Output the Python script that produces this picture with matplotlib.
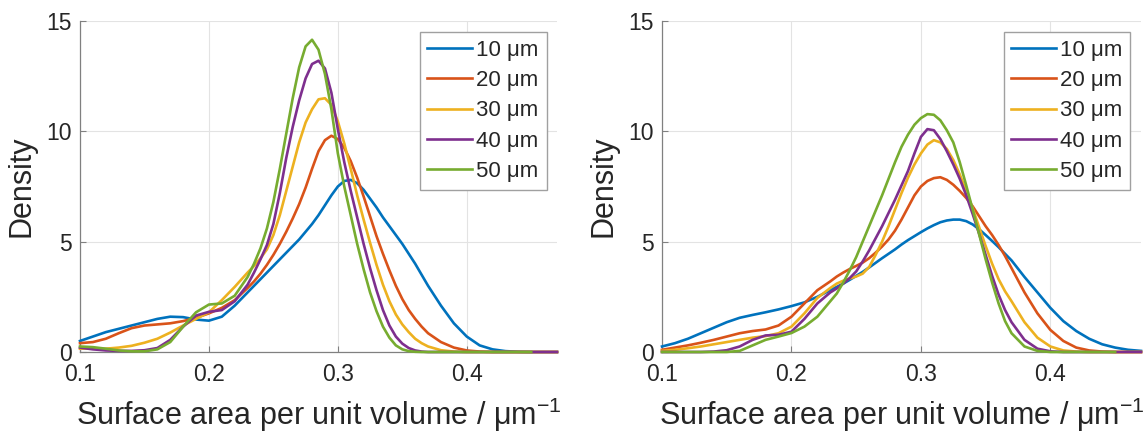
#
#Import Statements
import numpy as np
import matplotlib
matplotlib.use("Agg")
import matplotlib.pyplot as plt

plt.rcParams['font.family'] = ['Liberation Sans', 'DejaVu Sans']

#Sample positions (surface area per unit volume, 1/um), finer around the peaks
x = np.round(np.concatenate([np.arange(0.10, 0.235, 0.01),
                             np.arange(0.235, 0.3675, 0.005),
                             np.arange(0.37, 0.475, 0.01)]), 3)

labels = ["10 μm", "20 μm", "30 μm", "40 μm", "50 μm"]
colors = ["#0072BD", "#D95319", "#EDB120", "#7E2F8E", "#77AC30"]
nan = np.nan

#Left panel densities
left_10 = [0.5, 0.7, 0.9, 1.05, 1.2, 1.35, 1.5, 1.6, 1.58, 1.47, 1.42, 1.6, 2.1, 2.7,
           3.0, 3.3, 3.6, 3.9, 4.2, 4.5, 4.8, 5.1, 5.45, 5.8, 6.2, 6.65, 7.1, 7.5,
           7.75, 7.8, 7.65, 7.35, 6.95, 6.55, 6.1, 5.7, 5.3, 4.9, 4.45, 4.0, 3.5,
           3.0, 2.1, 1.3, 0.7, 0.3, 0.12, 0.04, 0.01, 0, 0, 0]
left_20 = [0.4, 0.45, 0.6, 0.85, 1.08, 1.2, 1.25, 1.3, 1.4, 1.55, 1.75, 2.0, 2.35, 2.9,
           3.2, 3.55, 3.95, 4.4, 4.9, 5.45, 6.05, 6.7, 7.45, 8.3, 9.1, 9.6, 9.8, 9.65,
           9.25, 8.65, 7.9, 7.05, 6.15, 5.25, 4.45, 3.7, 3.0, 2.4, 1.9, 1.5, 1.15,
           0.85, 0.45, 0.2, 0.07, 0.02, 0, 0, 0, 0, 0, 0]
left_30 = [0.15, 0.15, 0.15, 0.2, 0.28, 0.42, 0.6, 0.88, 1.2, 1.5, 1.8, 2.35, 2.95, 3.6,
           3.9, 4.25, 4.65, 5.3, 6.2, 7.3, 8.4, 9.5, 10.4, 11.0, 11.45, 11.5, 11.2, 10.45,
           9.45, 8.3, 7.1, 6.0, 4.95, 3.95, 3.05, 2.3, 1.7, 1.25, 0.9, 0.6, 0.4,
           0.25, 0.08, 0.02, 0, 0, 0, 0, 0, 0, 0, 0]
left_40 = [0.2, 0.12, 0.07, 0.05, 0.05, 0.08, 0.18, 0.55, 1.15, 1.65, 1.82, 1.9, 2.3, 3.05,
           3.6, 4.2, 4.85, 5.8, 7.2, 8.8, 10.2, 11.4, 12.4, 13.05, 13.2, 12.85, 11.75, 10.1,
           8.6, 7.3, 6.1, 4.9, 3.8, 2.8, 1.9, 1.2, 0.7, 0.38, 0.18, 0.07, 0.02,
           0, 0, 0, 0, 0, 0, 0, 0, 0, 0, 0]
left_50 = [0.25, 0.22, 0.15, 0.07, 0.03, 0.03, 0.12, 0.45, 1.15, 1.8, 2.15, 2.2, 2.55, 3.4,
           4.0, 4.7, 5.6, 6.8, 8.3, 9.9, 11.5, 12.9, 13.85, 14.15, 13.7, 12.6, 11.0, 9.0,
           7.5, 6.2, 4.9, 3.75, 2.7, 1.85, 1.15, 0.65, 0.3, 0.12, 0.04, 0.01, 0,
           0, 0, 0, 0, 0, 0, 0, 0, 0, nan, nan]

#Right panel densities
right_10 = [0.25, 0.4, 0.6, 0.85, 1.1, 1.35, 1.55, 1.68, 1.8, 1.93, 2.08, 2.25, 2.5, 2.8,
            2.95, 3.1, 3.27, 3.45, 3.63, 3.83, 4.04, 4.25, 4.45, 4.65, 4.87, 5.07, 5.25, 5.43,
            5.6, 5.75, 5.88, 5.96, 6.0, 6.0, 5.93, 5.78, 5.56, 5.3, 5.03, 4.75, 4.45,
            4.15, 3.4, 2.7, 2.0, 1.4, 0.95, 0.6, 0.35, 0.2, 0.1, 0.05]
right_20 = [0.1, 0.2, 0.3, 0.42, 0.55, 0.7, 0.85, 0.95, 1.02, 1.2, 1.6, 2.2, 2.8, 3.2,
            3.42, 3.6, 3.76, 3.9, 4.05, 4.25, 4.5, 4.78, 5.1, 5.5, 6.0, 6.55, 7.1, 7.5,
            7.75, 7.88, 7.92, 7.8, 7.58, 7.3, 6.98, 6.6, 6.15, 5.7, 5.3, 4.85, 4.35,
            3.8, 2.7, 1.75, 1.0, 0.5, 0.2, 0.07, 0.02, 0, 0, 0]
right_30 = [0.05, 0.1, 0.17, 0.25, 0.35, 0.45, 0.55, 0.65, 0.72, 0.85, 1.15, 1.75, 2.45, 2.9,
            3.1, 3.23, 3.33, 3.42, 3.55, 3.85, 4.4, 5.0, 5.7, 6.45, 7.2, 7.9, 8.5, 9.0,
            9.4, 9.6, 9.5, 9.2, 8.7, 8.05, 7.3, 6.5, 5.65, 4.8, 4.0, 3.3, 2.75,
            2.3, 1.35, 0.65, 0.25, 0.07, 0.02, 0, 0, 0, 0, 0]
right_40 = [0, 0, 0, 0, 0.02, 0.08, 0.25, 0.55, 0.75, 0.78, 0.92, 1.5, 2.2, 2.7,
            2.88, 3.1, 3.35, 3.65, 4.1, 4.6, 5.15, 5.7, 6.3, 6.9, 7.55, 8.2, 9.0, 9.75,
            10.1, 10.05, 9.65, 9.1, 8.5, 7.85, 7.1, 6.25, 5.35, 4.4, 3.45, 2.6, 1.9,
            1.35, 0.55, 0.15, 0.03, 0, 0, 0, 0, 0, 0, 0]
right_50 = [0, 0, 0, 0, 0, 0, 0.05, 0.3, 0.55, 0.7, 0.86, 1.15, 1.6, 2.3,
            2.65, 3.15, 3.7, 4.3, 5.0, 5.7, 6.4, 7.1, 7.85, 8.6, 9.3, 9.85, 10.3, 10.6,
            10.78, 10.75, 10.5, 10.05, 9.5, 8.6, 7.55, 6.45, 5.33, 4.2, 3.15, 2.2, 1.4,
            0.85, 0.25, 0.05, 0, 0, 0, 0, 0, 0, nan, nan]

xticks = [0.1, 0.2, 0.3, 0.4]
yticks = [0, 5, 10, 15]
xlabel = r"Surface area per unit volume / μm$^{\mathregular{-1}}$"
ylabel = "Density"


def draw_panel(axes, series):
    """
    """
    #Curves, last one on top
    for ys, lab, col in zip(series, labels, colors):
        axes.plot(x, ys, color=col, lw=1.9, label=lab, clip_on=False, zorder=3)
    #Axis limits and ticks
    axes.set_xlim(0.1, 0.47)
    axes.set_ylim(0, 15)
    axes.set_xticks(xticks)
    axes.set_xticklabels(["%.1f" % t for t in xticks])
    axes.set_yticks(yticks)
    axes.tick_params(direction='in', length=4, width=0.8, colors='#808080',
                     labelcolor='#262626', labelsize=16.5)
    axes.tick_params(axis='x', pad=8)
    axes.tick_params(axis='y', pad=6)
    #Light grid, box off
    axes.grid(True, color='#e3e3e3', lw=0.8)
    axes.set_axisbelow(True)
    for side in ['top', 'right']:
        axes.spines[side].set_visible(False)
    for side in ['left', 'bottom']:
        axes.spines[side].set_color('#808080')
        axes.spines[side].set_linewidth(0.9)
    axes.set_xlabel(xlabel, fontsize=22, color='#262626', labelpad=7)
    axes.set_ylabel(ylabel, fontsize=22, color='#262626', labelpad=7)
    leg = axes.legend(loc='upper right', bbox_to_anchor=(0.978, 0.967), borderaxespad=0,
                      fontsize=16, fancybox=False, framealpha=1, edgecolor='#a0a0a0',
                      handlelength=2.0, handletextpad=0.2, labelspacing=0.42,
                      borderpad=0.35)
    leg.get_frame().set_linewidth(1.0)
    for t in leg.get_texts():
        t.set_color('#262626')


#Create Plot
fig = plt.figure(figsize=(11.46, 4.36), dpi=100)
ax1 = fig.add_axes([80/1146, 1-352/436, 477/1146, 331/436])
ax2 = fig.add_axes([662/1146, 1-352/436, 479/1146, 331/436])

draw_panel(ax1, [left_10, left_20, left_30, left_40, left_50])
draw_panel(ax2, [right_10, right_20, right_30, right_40, right_50])

fig.savefig("out.png", dpi=100)
